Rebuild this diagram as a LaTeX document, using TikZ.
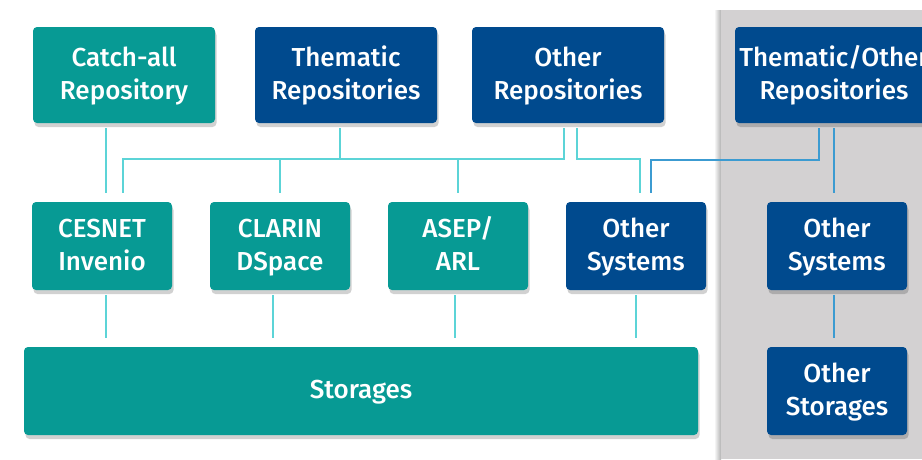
\documentclass[tikz,border=0pt]{standalone}
\usepackage{fontspec}
\setmainfont{Fira Sans}[BoldFont={Fira Sans Medium}]
\usetikzlibrary{shadows}
\definecolor{tealbox}{HTML}{079A94}
\definecolor{navybox}{HTML}{004A8E}
\definecolor{tealline}{HTML}{5CD4D7}
\definecolor{blueline}{HTML}{3C9BD1}
\definecolor{panelgray}{HTML}{D3D1D2}

\begin{document}
\begin{tikzpicture}[line cap=butt,line join=miter,x=1pt,y=-1pt,
    box/.style={rounded corners=4pt,text=white,align=center,inner sep=0pt,
      font=\fontsize{26}{33.5}\selectfont\bfseries,
      text height=59pt,text depth=9.9pt,
      drop shadow={shadow xshift=1.5pt,shadow yshift=-4pt,opacity=.18,fill=black}},
    tbox/.style={box,fill=tealbox},
    nbox/.style={box,fill=navybox},
    link/.style={color=tealline,line width=2.6pt},
    linkb/.style={color=blueline,line width=2.6pt}]
    \useasboundingbox (0,0) rectangle (922,459);
    \clip (0,0) rectangle (922,459);
    \fill[white] (0,0) rectangle (922,459);
    \shade[left color=white,right color=black!30] (714,10) rectangle (721,459);
    \fill[color=panelgray] (721,10) rectangle (922,459);
    % top row
    \node[tbox,minimum width=182,minimum height=96] (catchall) at (124,75) {Catch-all\\Repository};
    \node[nbox,minimum width=182,minimum height=96] (thematic) at (346,75) {Thematic\\Repositories};
    \node[nbox,minimum width=192,minimum height=96] (otherrepo) at (568,75) {Other\\Repositories};
    \node[nbox,minimum width=198,minimum height=96] (thotherrepo) at (834,75) {Thematic/Other\\Repositories};
    % middle row
    \node[tbox,minimum width=140,minimum height=88] (cesnet) at (102,246) {CESNET\\Invenio};
    \node[tbox,minimum width=140,minimum height=88] (clarin) at (280,246) {CLARIN\\DSpace};
    \node[tbox,minimum width=140,minimum height=88] (asep) at (458,246) {ASEP/\\ARL};
    \node[nbox,minimum width=140,minimum height=88] (othersys) at (636,246) {Other\\Systems};
    \node[nbox,minimum width=140,minimum height=88] (othersysR) at (837,246) {Other\\Systems};
    % bottom row
    \node[tbox,minimum width=674,minimum height=88,text height=22pt,text depth=7pt] (storages) at (361,391) {Storages};
    \node[nbox,minimum width=140,minimum height=88] (otherstor) at (837,391) {Other\\Storages};

    \coordinate (busL) at (123,159);
    \coordinate (busM) at (640,159);
    \coordinate (busB) at (651,160);
    \draw[link,shorten <=5pt,shorten >=9pt] ([xshift=-18pt]catchall.south) -- ([xshift=4pt]cesnet.north);
    \draw[link,shorten <=5pt,shorten >=9pt] ([xshift=-4pt]otherrepo.south) |- (busL) -- (busL |- cesnet.north);
    \draw[link,shorten <=5pt] ([xshift=-6pt]thematic.south) -- ++(0,37);
    \draw[link,shorten >=9pt] (busL -| clarin.north) -- (clarin.north);
    \draw[link,shorten >=9pt] (busL -| asep.north) -- (asep.north);
    \draw[link,shorten <=5pt,shorten >=9pt] ([xshift=9pt]otherrepo.south) |- (busM) -- (busM |- othersys.north);
    \draw[linkb,shorten <=5pt,shorten >=9pt] ([xshift=-15pt]thotherrepo.south) |- (busB) -- (busB |- othersys.north);
    \draw[linkb,shorten <=5pt,shorten >=9pt] (thotherrepo.south) -- (thotherrepo.south |- othersysR.north);
    \draw[linkb,shorten <=5pt,shorten >=9pt] ([xshift=-3pt]othersysR.south) -- ([xshift=-3pt]otherstor.north);
    \foreach \n/\s in {cesnet/4,clarin/-7,asep/-3,othersys/0}
    \draw[link,shorten <=5pt] ([xshift=\s pt]\n.south) -- ++(0,48);
\end{tikzpicture}
\end{document}
